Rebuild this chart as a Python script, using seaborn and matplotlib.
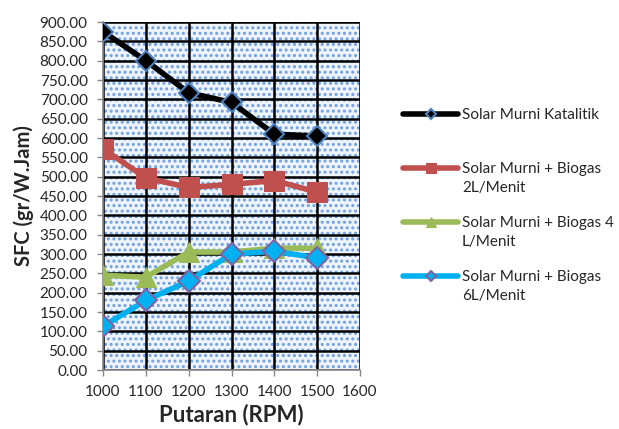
import matplotlib
matplotlib.use("Agg")
import matplotlib.pyplot as plt
import seaborn as sns
import pandas as pd
from matplotlib.ticker import FormatStrFormatter
from matplotlib.patches import Rectangle

rpm = [1000, 1100, 1200, 1300, 1400, 1500]
katalitik = [875, 800, 717, 692, 610, 605]
biogas2 = [572, 497, 472, 480, 490, 460]
biogas4 = [245, 240, 305, 305, 315, 315]
biogas6 = [113, 180, 230, 300, 307, 290]
labels_first = ["Solar Murni Katalitik", "Solar Murni + Biogas",
                "Solar Murni + Biogas 4", "Solar Murni + Biogas"]
labels_second = ["", "2L/Menit", "L/Menit", "6L/Menit"]
x_ticks = [1000, 1100, 1200, 1300, 1400, 1500, 1600]

sns.set_theme(style="white")
plt.rcParams['font.family'] = ['Lato', 'DejaVu Sans']
plt.rcParams['hatch.linewidth'] = 1.4

W, H = 619, 429
fig = plt.figure(figsize=(W / 100, H / 100), dpi=100)
ax = fig.add_axes([103 / W, 1 - 370 / H, 257 / W, 348 / H])

# patterned background
ax.set_facecolor("white")
bg = Rectangle((0, 0), 1, 1, transform=ax.transAxes, facecolor="#eef4fc",
               edgecolor="#6f9ee0", hatch="...", linewidth=0, zorder=0)
ax.add_patch(bg)

styles = [
    dict(color="black", marker="D", markersize=10, markerfacecolor="black",
         markeredgecolor="#4F81BD", markeredgewidth=1.5, linewidth=4),
    dict(color="#C0504D", marker="s", markersize=14.5, markerfacecolor="#C0504D",
         markeredgecolor="#C0504D", linewidth=4),
    dict(color="#9BBB59", marker="^", markersize=15, markerfacecolor="#9BBB59",
         markeredgecolor="#9BBB59", linewidth=4),
    dict(color="#00B0F0", marker="D", markersize=11, markerfacecolor="#00B0F0",
         markeredgecolor="#8064A2", markeredgewidth=1.5, linewidth=4),
]
for vals, lab, st in zip([katalitik, biogas2, biogas4, biogas6], labels_first, styles):
    df = pd.DataFrame({"rpm": rpm, "sfc": vals})
    sns.lineplot(data=df, x="rpm", y="sfc", ax=ax, label=lab, zorder=3, **st)

ax.set_xlim(1000, 1600)
ax.set_ylim(0, 900)
ax.set_xticks(x_ticks)
ax.set_yticks(range(0, 901, 50))
ax.yaxis.set_major_formatter(FormatStrFormatter("%.2f"))
ax.grid(True, color="black", linewidth=1.8, zorder=1)
ax.set_axisbelow(True)
for s in ["top", "right"]:
    ax.spines[s].set_visible(False)
for s in ["left", "bottom"]:
    ax.spines[s].set_color("#888888")
    ax.spines[s].set_linewidth(1.2)
ax.tick_params(axis="both", which="both", direction="out", length=4, width=1,
               color="#888888", labelsize=11, left=True, bottom=True, pad=7)
ax.set_xlabel("Putaran (RPM)", fontsize=16, fontweight="bold", labelpad=3)
ax.set_ylabel("SFC (gr/W.Jam)", fontsize=14.5, fontweight="bold", labelpad=4)

leg = ax.legend(loc="upper left", bbox_to_anchor=(403 / W, 1 - 108 / H),
                bbox_transform=fig.transFigure, frameon=False, borderpad=0,
                borderaxespad=0, fontsize=11, markerscale=0.5,
                handlelength=3.6, labelspacing=2.62, handletextpad=0.25)

# second lines of the wrapped legend labels
fig.canvas.draw()
for txt, second in zip(leg.get_texts(), labels_second):
    if second:
        bb = txt.get_window_extent()
        fig.text(bb.x0 / W, (bb.y0 - 19) / H, second, fontsize=11,
                 ha="left", va="bottom", color=txt.get_color())

fig.savefig("out.png", dpi=100)
